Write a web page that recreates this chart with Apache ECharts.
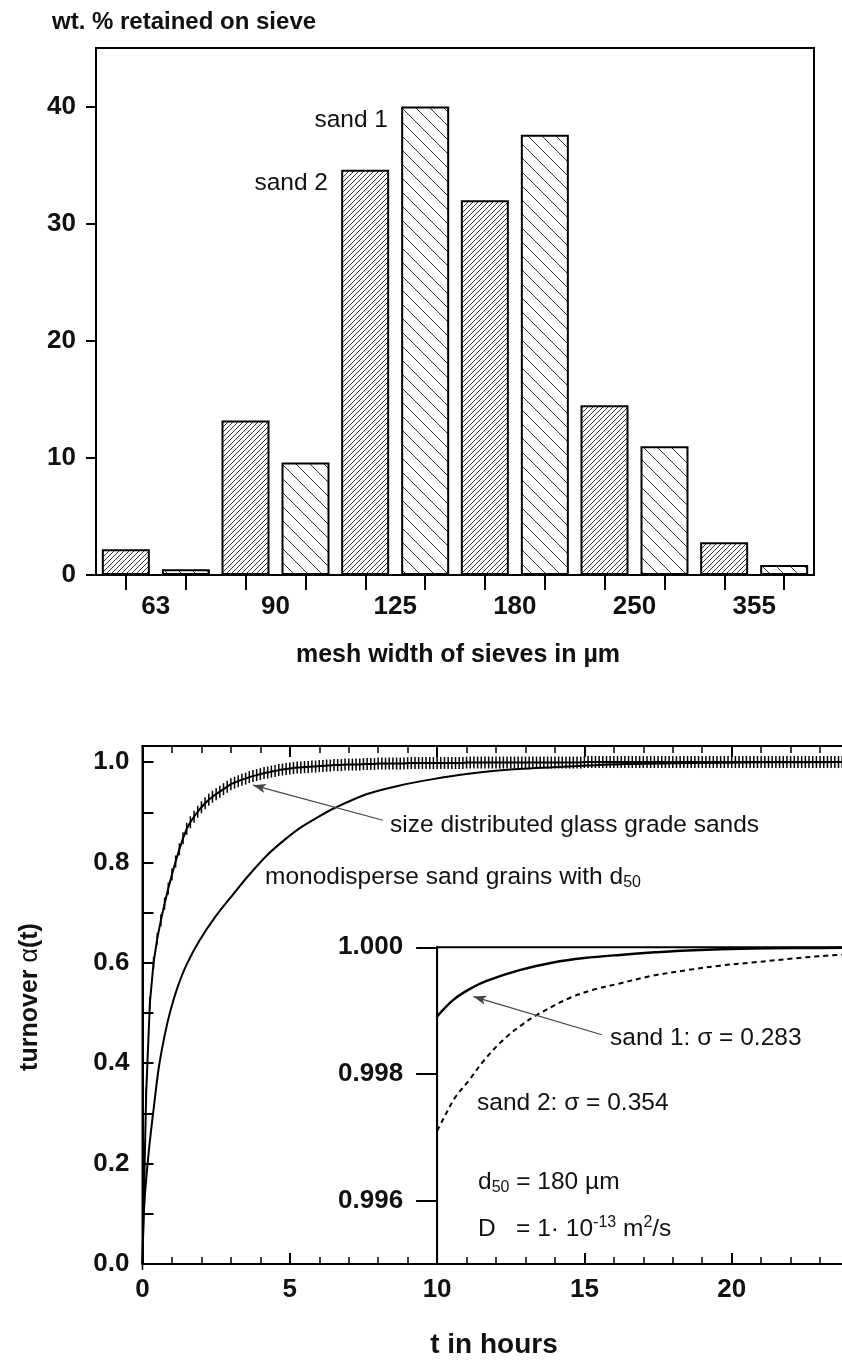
<!DOCTYPE html>
<html>
<head>
<meta charset="utf-8">
<script src="https://cdn.jsdelivr.net/npm/echarts@6/dist/echarts.min.js"></script>
<style>
  html, body { margin: 0; padding: 0; background: #fff; }
  #chart { width: 842px; height: 1362px; }
</style>
</head>
<body>
<div id="chart"></div>
<script>
// ---- sieve analysis (upper panel) ----
const meshWidths = ['63', '90', '125', '180', '250', '355'];
const barSlots = ['63 s2', '63 s1', '90 s2', '90 s1', '125 s2', '125 s1', '180 s2', '180 s1', '250 s2', '250 s1', '355 s2', '355 s1'];
const sand2Retained = [2.2, 13.2, 34.6, 32.0, 14.5, 2.8];
const sand1Retained = [0.5, 9.6, 40.0, 37.6, 11.0, 0.85];
const retainedTicks = [0, 10, 20, 30, 40];

// ---- turnover curves (lower panel) ----
const turnoverTicks = [0, 0.1, 0.2, 0.3, 0.4, 0.5, 0.6, 0.7, 0.8, 0.9, 1.0];
const turnoverLabels = [0, 0.2, 0.4, 0.6, 0.8, 1.0];
const insetTicks = [0.996, 0.998, 1.000];
const insetMinorTicks = [0.995, 0.997, 0.999];

// monodisperse grains, [t in h, alpha]
const monodisperse = [
  [0, 0], [0.03, 0.08], [0.08, 0.135], [0.15, 0.185], [0.25, 0.245], [0.4, 0.32],
  [0.55, 0.39], [0.75, 0.455], [0.95, 0.505], [1.2, 0.553], [1.5, 0.597],
  [1.95, 0.646], [2.5, 0.694], [3.07, 0.736], [3.6, 0.774], [4.22, 0.814],
  [4.8, 0.844], [5.35, 0.869], [6.0, 0.892], [6.5, 0.908], [7.6, 0.936],
  [8.7, 0.953], [9.86, 0.966], [11, 0.976], [12.5, 0.985], [14.4, 0.991],
  [16.4, 0.996], [18.5, 0.998], [21, 0.9995], [25, 1.0]
];

// size distributed sands, one value every SIZE_DIST_STEP hours (one row per hour)
const SIZE_DIST_STEP = 0.125;
const sizeDistributed = [
  0.000, 0.340, 0.520, 0.600, 0.648, 0.685, 0.718, 0.748,
  0.776, 0.802, 0.826, 0.848, 0.867, 0.880, 0.891, 0.901,
  0.910, 0.918, 0.925, 0.931, 0.936, 0.941, 0.946, 0.951,
  0.956, 0.959, 0.962, 0.965, 0.967, 0.970, 0.972, 0.974,
  0.976, 0.978, 0.979, 0.981, 0.982, 0.984, 0.985, 0.986,
  0.987, 0.988, 0.989, 0.989, 0.990, 0.990, 0.991, 0.991,
  0.992, 0.992, 0.993, 0.993, 0.994, 0.994, 0.994, 0.995,
  0.995, 0.995, 0.995, 0.995, 0.996, 0.996, 0.996, 0.996,
  0.997, 0.997, 0.997, 0.997, 0.997, 0.997, 0.997, 0.997,
  0.998, 0.998, 0.998, 0.998, 0.998, 0.998, 0.998, 0.998,
  0.998, 0.998, 0.998, 0.998, 0.998, 0.998, 0.998, 0.998,
  0.999, 0.999, 0.999, 0.999, 0.999, 0.999, 0.999, 0.999,
  0.999, 0.999, 0.999, 0.999, 0.999, 0.999, 0.999, 0.999,
  0.999, 0.999, 0.999, 0.999, 0.999, 0.999, 0.999, 0.999,
  0.999, 0.999, 0.999, 0.999, 0.999, 0.999, 0.999, 0.999,
  1.000, 1.000, 1.000, 1.000, 1.000, 1.000, 1.000, 1.000,
  1.000, 1.000, 1.000, 1.000, 1.000, 1.000, 1.000, 1.000,
  1.000, 1.000, 1.000, 1.000, 1.000, 1.000, 1.000, 1.000,
  1.000, 1.000, 1.000, 1.000, 1.000, 1.000, 1.000, 1.000,
  1.000, 1.000, 1.000, 1.000, 1.000, 1.000, 1.000, 1.000,
  1.000, 1.000, 1.000, 1.000, 1.000, 1.000, 1.000, 1.000,
  1.000, 1.000, 1.000, 1.000, 1.000, 1.000, 1.000, 1.000,
  1.000, 1.000, 1.000, 1.000, 1.000, 1.000, 1.000, 1.000,
  1.000, 1.000, 1.000, 1.000, 1.000, 1.000, 1.000, 1.000,
  1.000
];

// inset: late stage of the turnover, [t in h, alpha]
const sand1Inset = [
  [10, 0.99891], [10.55, 0.99917], [11.1, 0.99934], [11.68, 0.99947], [12.8, 0.99964],
  [13.94, 0.99976], [15, 0.99983], [16.2, 0.99988], [17.4, 0.99992], [18.5, 0.99995],
  [20.7, 0.99998], [23, 0.99999], [25, 1.0]
];
const sand2Inset = [
  [10, 0.99710], [10.2, 0.99728], [10.6, 0.99762], [11.1, 0.99791], [11.6, 0.99822],
  [12.25, 0.99854], [12.8, 0.99875], [13.38, 0.99893], [14.5, 0.99920], [15.3, 0.99933],
  [16.2, 0.99943], [17.3, 0.99955], [18.5, 0.99964], [19.6, 0.99971], [20.7, 0.99976],
  [23.0, 0.99986], [25, 0.99991]
];

// ---- helpers ----
const FONT = "'Liberation Sans', Arial, Helvetica, sans-serif";
const INK = '#111';

function hatch(size, rising) {
  const c = document.createElement('canvas');
  c.width = size; c.height = size;
  const g = c.getContext('2d');
  g.strokeStyle = '#333';
  g.lineWidth = 1;
  g.beginPath();
  for (let k = -1; k <= 1; k++) {
    if (rising) { g.moveTo(k * size, size); g.lineTo(k * size + size, 0); }
    else { g.moveTo(k * size, 0); g.lineTo(k * size + size, size); }
  }
  g.stroke();
  return { image: c, repeat: 'repeat' };
}

const sizeDistPoints = sizeDistributed.map((a, i) => [i * SIZE_DIST_STEP, a]);

const tickLabelStyle = { color: INK, fontFamily: FONT, fontWeight: 'bold', fontSize: 26 };
const axisLine = { show: true, lineStyle: { color: '#000', width: 2 } };

function text(x, y, str, opts) {
  return {
    type: 'text', x: x, y: y, silent: true,
    rotation: (opts && opts.rotation) || 0,
    style: Object.assign({
      text: str, fill: INK, fontFamily: FONT, fontSize: 24.5,
      align: 'left', verticalAlign: 'middle'
    }, opts && opts.style)
  };
}

const subRich = {
  n: { fontSize: 24.5, fontFamily: FONT, lineHeight: 28, verticalAlign: 'middle', color: INK },
  sub: { fontSize: 16, fontFamily: FONT, lineHeight: 16, verticalAlign: 'bottom', color: INK },
  sup: { fontSize: 16, fontFamily: FONT, lineHeight: 16, verticalAlign: 'top', color: INK }
};

const chart = echarts.init(document.getElementById('chart'), null, { renderer: 'canvas' });

chart.setOption({
  animation: false,
  backgroundColor: '#fff',
  grid: [
    { left: 96, top: 48, width: 718, height: 527, show: true, borderColor: '#000', borderWidth: 2, outerBoundsMode: 'none', containLabel: false },
    { left: 142.5, top: 746, width: 736.5, height: 518, show: true, borderColor: '#000', borderWidth: 2, outerBoundsMode: 'none', containLabel: false },
    { left: 437.1, top: 947.3, width: 441.9, height: 316.7, show: true, borderColor: '#000', borderWidth: 2, outerBoundsMode: 'none', containLabel: false }
  ],
  xAxis: [
    {
      gridIndex: 0, type: 'category', data: meshWidths,
      axisLine: axisLine, axisTick: { show: false },
      axisLabel: Object.assign({ margin: 19 }, tickLabelStyle)
    },
    {
      gridIndex: 0, type: 'category', data: barSlots, position: 'bottom',
      axisLine: { show: false },
      axisTick: { show: true, alignWithLabel: true, interval: 0, length: 15, lineStyle: { color: '#000', width: 2 } },
      axisLabel: { show: false }
    },
    {
      gridIndex: 1, type: 'value', min: 0, max: 25, interval: 5, position: 'bottom',
      axisLine: axisLine,
      axisTick: { inside: true, length: 11, lineStyle: { color: '#000', width: 2 } },
      minorTick: { show: true, splitNumber: 5, length: 7, lineStyle: { color: '#000', width: 1.5 } },
      axisLabel: Object.assign({ margin: 13 }, tickLabelStyle),
      splitLine: { show: false }
    },
    {
      gridIndex: 1, type: 'value', min: 0, max: 25, interval: 5, position: 'top',
      axisLine: axisLine,
      axisTick: { inside: true, length: 11, lineStyle: { color: '#000', width: 2 } },
      minorTick: { show: true, splitNumber: 5, length: 7, lineStyle: { color: '#000', width: 1.5 } },
      axisLabel: { show: false },
      splitLine: { show: false }
    },
    {
      gridIndex: 2, type: 'value', min: 10, max: 25, show: false, splitLine: { show: false }
    }
  ],
  yAxis: [
    {
      gridIndex: 0, type: 'value', min: 0, max: 45,
      axisLine: axisLine,
      axisTick: { show: true, customValues: retainedTicks, length: 10, lineStyle: { color: '#000', width: 2 } },
      axisLabel: Object.assign({ customValues: retainedTicks, margin: 20 }, tickLabelStyle),
      splitLine: { show: false }
    },
    {
      gridIndex: 1, type: 'value', min: 0, max: 1.032,
      axisLine: axisLine,
      axisTick: { show: true, inside: true, customValues: turnoverTicks, length: 11, lineStyle: { color: '#000', width: 2 } },
      axisLabel: Object.assign({
        customValues: turnoverLabels, margin: 13,
        formatter: v => v.toFixed(1)
      }, tickLabelStyle),
      splitLine: { show: false }
    },
    {
      gridIndex: 2, type: 'value', min: 0.995, max: 1.0,
      axisLine: axisLine,
      axisTick: { show: true, customValues: insetTicks, length: 21, lineStyle: { color: '#000', width: 2 } },
      axisLabel: Object.assign({
        customValues: insetTicks, margin: 34,
        formatter: v => v.toFixed(3)
      }, tickLabelStyle),
      splitLine: { show: false }
    },
    {
      gridIndex: 2, type: 'value', min: 0.995, max: 1.0,
      axisLine: { show: false },
      axisTick: { show: true, customValues: insetMinorTicks, length: 10, lineStyle: { color: '#000', width: 2 } },
      axisLabel: { show: false },
      splitLine: { show: false }
    }
  ],
  series: [
    {
      name: 'sand 2', type: 'bar', xAxisIndex: 0, yAxisIndex: 0,
      data: sand2Retained, barWidth: 48, barGap: '25%',
      itemStyle: { color: hatch(5, true), borderColor: '#000', borderWidth: 2 },
      emphasis: { disabled: true }, silent: true
    },
    {
      name: 'sand 1', type: 'bar', xAxisIndex: 0, yAxisIndex: 0,
      data: sand1Retained, barWidth: 48, barGap: '25%',
      itemStyle: { color: hatch(14, false), borderColor: '#000', borderWidth: 2 },
      emphasis: { disabled: true }, silent: true
    },
    {
      name: 'monodisperse', type: 'line', xAxisIndex: 2, yAxisIndex: 1,
      data: monodisperse, smooth: 0.3, showSymbol: false,
      lineStyle: { color: '#000', width: 2 }, silent: true
    },
    {
      name: 'size distributed', type: 'line', xAxisIndex: 2, yAxisIndex: 1,
      data: sizeDistPoints, showSymbol: true, symbol: 'rect', symbolSize: [1.5, 12],
      itemStyle: { color: '#000' },
      lineStyle: { color: '#000', width: 2 }, silent: true,
      markLine: {
        silent: true, symbol: ['none', 'arrow'], symbolSize: [7, 13],
        lineStyle: { color: '#444', width: 1.2, type: 'solid' },
        label: { show: false },
        data: [[{ coord: [8.16, 0.884] }, { coord: [3.75, 0.954] }]]
      }
    },
    {
      name: 'sand 1 inset', type: 'line', xAxisIndex: 4, yAxisIndex: 2,
      data: sand1Inset, smooth: 0.35, showSymbol: false,
      lineStyle: { color: '#000', width: 2.5 }, silent: true,
      markLine: {
        silent: true, symbol: ['none', 'arrow'], symbolSize: [7, 13],
        lineStyle: { color: '#444', width: 1.2, type: 'solid' },
        label: { show: false },
        data: [[{ coord: [15.59, 0.998619] }, { coord: [11.23, 0.999222] }]]
      }
    },
    {
      name: 'sand 2 inset', type: 'line', xAxisIndex: 4, yAxisIndex: 2,
      data: sand2Inset, smooth: 0.35, showSymbol: false,
      lineStyle: { color: '#000', width: 2, type: [5, 4] }, silent: true
    }
  ],
  graphic: [
    text(52, 22, 'wt. % retained on sieve', { style: { fontWeight: 'bold', fontSize: 24 } }),
    text(388, 120, 'sand 1', { style: { align: 'right' } }),
    text(328, 183, 'sand 2', { style: { align: 'right' } }),
    text(458, 655, 'mesh width of sieves in µm', { style: { fontWeight: 'bold', fontSize: 25, align: 'center' } }),
    text(30, 997, '', {
      rotation: Math.PI / 2,
      style: {
        align: 'center',
        text: '{b|turnover }{g|α}{b|(t)}',
        rich: {
          b: { fontFamily: FONT, fontWeight: 'bold', fontSize: 25, color: INK },
          g: { fontFamily: FONT, fontSize: 25, color: INK }
        }
      }
    }),
    text(494, 1345, 't in hours', { style: { fontWeight: 'bold', fontSize: 28, align: 'center' } }),
    text(390, 825, 'size distributed glass grade sands'),
    text(265, 877, '', { style: { text: '{n|monodisperse sand grains with d}{sub|50}', rich: subRich } }),
    text(610, 1038, 'sand 1: σ = 0.283'),
    text(477, 1103, 'sand 2: σ = 0.354'),
    text(478, 1182, '', { style: { text: '{n|d}{sub|50}{n| = 180 µm}', rich: subRich } }),
    text(478, 1229, '', { style: { text: '{n|D   = 1· 10}{sup|-13}{n| m}{sup|2}{n|/s}', rich: subRich } })
  ]
});
</script>
</body>
</html>
